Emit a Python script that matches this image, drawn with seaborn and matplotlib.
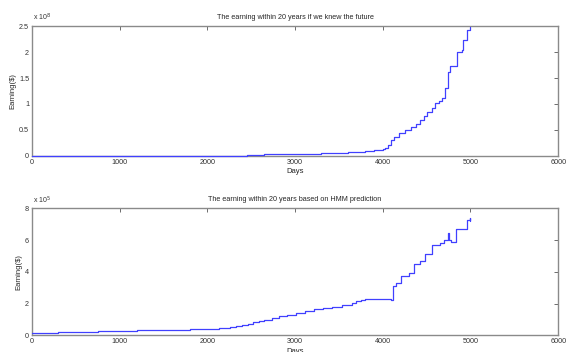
import matplotlib
matplotlib.use('Agg')
import seaborn as sns
import matplotlib.pyplot as plt
import pandas as pd

# earnings if the future were known (units of 1e8 $)
days_top = [0, 1000, 2000, 2450, 2650, 2800, 3000, 3150, 3300, 3450, 3600, 3700, 3800,
            3900, 4000, 4020, 4060, 4093, 4130, 4187, 4250, 4318, 4380, 4430, 4470,
            4506, 4560, 4599, 4640, 4674, 4712, 4749, 4767, 4843, 4851, 4899, 4918,
            4955, 4966, 5000]
earn_top = [0.003, 0.005, 0.008, 0.01, 0.03, 0.035, 0.04, 0.045, 0.05, 0.06, 0.07, 0.08,
            0.09, 0.11, 0.13, 0.16, 0.22, 0.31, 0.36, 0.44, 0.5, 0.56, 0.62, 0.70, 0.76,
            0.85, 0.93, 1.01, 1.06, 1.12, 1.30, 1.62, 1.73, 1.73, 2.0, 2.04, 2.23,
            2.26, 2.43, 2.48]

# earnings based on the HMM prediction (units of 1e5 $)
days_hmm = [0, 150, 300, 450, 600, 750, 900, 1050, 1200, 1350, 1500, 1650, 1800, 2000,
            2130, 2258, 2330, 2400, 2460, 2521, 2590, 2652, 2740, 2820, 2910, 3007,
            3110, 3213, 3320, 3419, 3530, 3644, 3700, 3757, 3800, 3850, 3906, 4000,
            4093, 4112, 4150, 4206, 4300, 4356, 4430, 4487, 4562, 4655, 4693, 4742,
            4755, 4768, 4775, 4824, 4835, 4955, 4963, 4993, 5000]
earn_hmm = [0.15, 0.17, 0.2, 0.22, 0.24, 0.26, 0.28, 0.3, 0.32, 0.34, 0.36, 0.37, 0.38,
            0.4, 0.45, 0.51, 0.58, 0.65, 0.73, 0.82, 0.9, 0.99, 1.1, 1.2, 1.3, 1.4,
            1.52, 1.65, 1.72, 1.8, 1.93, 2.07, 2.15, 2.24, 2.3, 2.27, 2.32, 2.28,
            2.24, 3.1, 3.32, 3.74, 3.95, 4.47, 4.67, 5.15, 5.72, 5.82, 6.03, 6.45,
            6.0, 6.03, 5.86, 5.86, 6.7, 6.7, 7.24, 7.39, 7.2]

titles = ['The earning within 20 years if we knew the future',
          'The earning within 20 years based on HMM prediction']
exponents = [8, 5]
ylims = [2.5, 8]
yticks = [[0, 0.5, 1, 1.5, 2, 2.5], [0, 2, 4, 6, 8]]
xticks = [0, 1000, 2000, 3000, 4000, 5000, 6000]

sns.set_style('white')
plt.rcParams['font.family'] = ['Liberation Sans', 'DejaVu Sans']

fig = plt.figure(figsize=(5.69, 3.52), dpi=100)
ax1 = fig.add_axes([0.056, 0.557, 0.925, 0.369])
ax2 = fig.add_axes([0.056, 0.047, 0.925, 0.361])

frames = [pd.DataFrame({'day': days_top, 'earning': earn_top}),
          pd.DataFrame({'day': days_hmm, 'earning': earn_hmm})]

for ax, df, title, ex, ym, yt in zip([ax1, ax2], frames, titles, exponents, ylims, yticks):
    sns.lineplot(data=df, x='day', y='earning', ax=ax, color='#4040ff', lw=0.9,
                 drawstyle='steps-post', zorder=5, clip_on=False)
    ax.set_xlim(0, 6000)
    ax.set_ylim(0, ym)
    ax.set_xticks(xticks)
    ax.set_yticks(yt)
    ax.set_yticklabels([f'{v:g}' for v in yt])
    ax.set_title(title, fontsize=5.2, pad=5)
    ax.set_xlabel('Days', fontsize=5.5, labelpad=2)
    ax.set_ylabel('Earning($)', fontsize=5.5, labelpad=2)
    ax.tick_params(direction='in', length=3, width=0.6, labelsize=5.2,
                   colors='#555555', top=True, right=True, pad=2)
    ax.tick_params(axis='both', labelcolor='#333333')
    for s in ax.spines.values():
        s.set_color('#8a8a8a')
        s.set_linewidth(1.0)
    ax.text(0.002, 1.02, r'x 10$^{%d}$' % ex, transform=ax.transAxes,
            fontsize=5, color='#333333', va='bottom')

fig.savefig('out.png', dpi=100)
